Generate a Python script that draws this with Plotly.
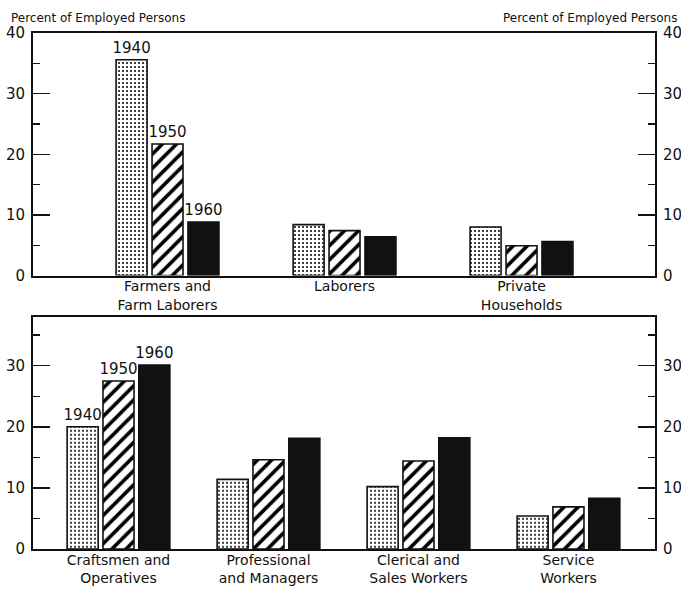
import plotly.graph_objects as go

years = ["1940", "1950", "1960"]

top_categories = ["Farmers and<br>Farm Laborers", "Laborers", "Private<br>Households"]
top_1940 = [35.6, 8.4, 8.0]
top_1950 = [21.7, 7.4, 4.9]
top_1960 = [8.8, 6.4, 5.6]

bottom_categories = ["Craftsmen and<br>Operatives", "Professional<br>and Managers",
                     "Clerical and<br>Sales Workers", "Service<br>Workers"]
bottom_1940 = [20.0, 11.4, 10.2, 5.4]
bottom_1950 = [27.5, 14.6, 14.4, 6.9]
bottom_1960 = [30.1, 18.1, 18.2, 8.3]

top_ticks = [0, 10, 20, 30, 40]
bottom_ticks = [0, 10, 20, 30]
y_title = "Percent of Employed Persons"

FONT = "DejaVu Sans"
INK = "#111111"

styles = {
    "1940": dict(color="white", pattern=dict(shape=".", size=4, solidity=0.22, fgcolor=INK,
                                             bgcolor="white", fgopacity=1)),
    "1950": dict(color="white", pattern=dict(shape="/", size=10, solidity=0.36, fgcolor="#000000",
                                             bgcolor="white", fgopacity=1)),
    "1960": dict(color=INK),
}

fig = go.Figure()


def add_panel(cats, series, xa, ya, bw, slot):
    offs = [-slot - bw / 2, -bw / 2, slot - bw / 2]
    for i, (yr, vals) in enumerate(zip(years, series)):
        labels = [yr] + [""] * (len(vals) - 1)
        st = styles[yr]
        marker = dict(color=st["color"], line=dict(color=INK, width=1.6))
        if "pattern" in st:
            marker["pattern"] = st["pattern"]
        fig.add_trace(go.Bar(
            x=cats, y=vals, xaxis=xa, yaxis=ya, marker=marker,
            width=bw, offset=offs[i], text=labels, textposition="outside",
            constraintext="none",
            textfont=dict(family=FONT, size=15, color=INK), cliponaxis=False,
            showlegend=False, hoverinfo="skip"))


add_panel(top_categories, [top_1940, top_1950, top_1960], "x", "y", 0.175, 0.203)
add_panel(bottom_categories, [bottom_1940, bottom_1950, bottom_1960], "x2", "y2", 0.207, 0.239)

# invisible traces to activate right-hand axes
fig.add_trace(go.Scatter(x=[top_categories[0]], y=[0], xaxis="x", yaxis="y3",
                         mode="markers", marker=dict(opacity=0), showlegend=False, hoverinfo="skip"))
fig.add_trace(go.Scatter(x=[bottom_categories[0]], y=[0], xaxis="x2", yaxis="y4",
                         mode="markers", marker=dict(opacity=0), showlegend=False, hoverinfo="skip"))

tickfont = dict(family=FONT, size=15, color=INK)
xfont = dict(family=FONT, size=14, color=INK)


def yax(rng, ticks, domain=None, side="left", overlay=None, anchor=None):
    d = dict(range=rng, tickvals=ticks, ticks="inside", ticklen=17, tickwidth=1.5,
             tickcolor=INK, showline=True, linecolor=INK, linewidth=2, showgrid=False,
             zeroline=False, tickfont=tickfont, side=side, fixedrange=True, automargin=False,
             ticklabelstandoff=3,
             minor=dict(dtick=5, ticks="inside", ticklen=7, tickwidth=1.3, tickcolor=INK))
    if domain is not None:
        d["domain"] = domain
    if overlay:
        d["overlaying"] = overlay
    if anchor:
        d["anchor"] = anchor
    return d


def xax(rng, domain_anchor):
    return dict(type="category", range=rng, showline=True, linecolor=INK, linewidth=2,
                mirror=True, ticks="", showgrid=False, zeroline=False, tickfont=xfont,
                anchor=domain_anchor, fixedrange=True, automargin=False,
                ticklabelstandoff=-3)


fig.update_layout(
    width=681, height=589,
    margin=dict(l=33, r=26, t=33, b=40),
    paper_bgcolor="white", plot_bgcolor="white",
    barmode="overlay",
    xaxis=xax([-0.76, 2.754], "y"),
    xaxis2=xax([-0.57, 3.577], "y2"),
    yaxis=yax([0, 40], top_ticks, domain=[0.53, 1.0], anchor="x"),
    yaxis3=yax([0, 40], top_ticks, side="right", overlay="y", anchor="x"),
    yaxis2=yax([0, 38], bottom_ticks, domain=[0.0, 0.45], anchor="x2"),
    yaxis4=yax([0, 38], bottom_ticks, side="right", overlay="y2", anchor="x2"),
    font=dict(family=FONT, color=INK),
    annotations=[
        dict(text=y_title, xref="paper", yref="paper", x=0, y=1, xshift=-24, yshift=6,
             xanchor="left", yanchor="bottom", showarrow=False,
             font=dict(family=FONT, size=12, color=INK)),
        dict(text=y_title, xref="paper", yref="paper", x=1, y=1, xshift=24, yshift=6,
             xanchor="right", yanchor="bottom", showarrow=False,
             font=dict(family=FONT, size=12, color=INK)),
    ],
)

fig.write_html(
    "out.html",
    config={"displayModeBar": False, "staticPlot": True},
    post_script="document.body.style.margin='0';document.body.style.overflow='hidden';",
)
